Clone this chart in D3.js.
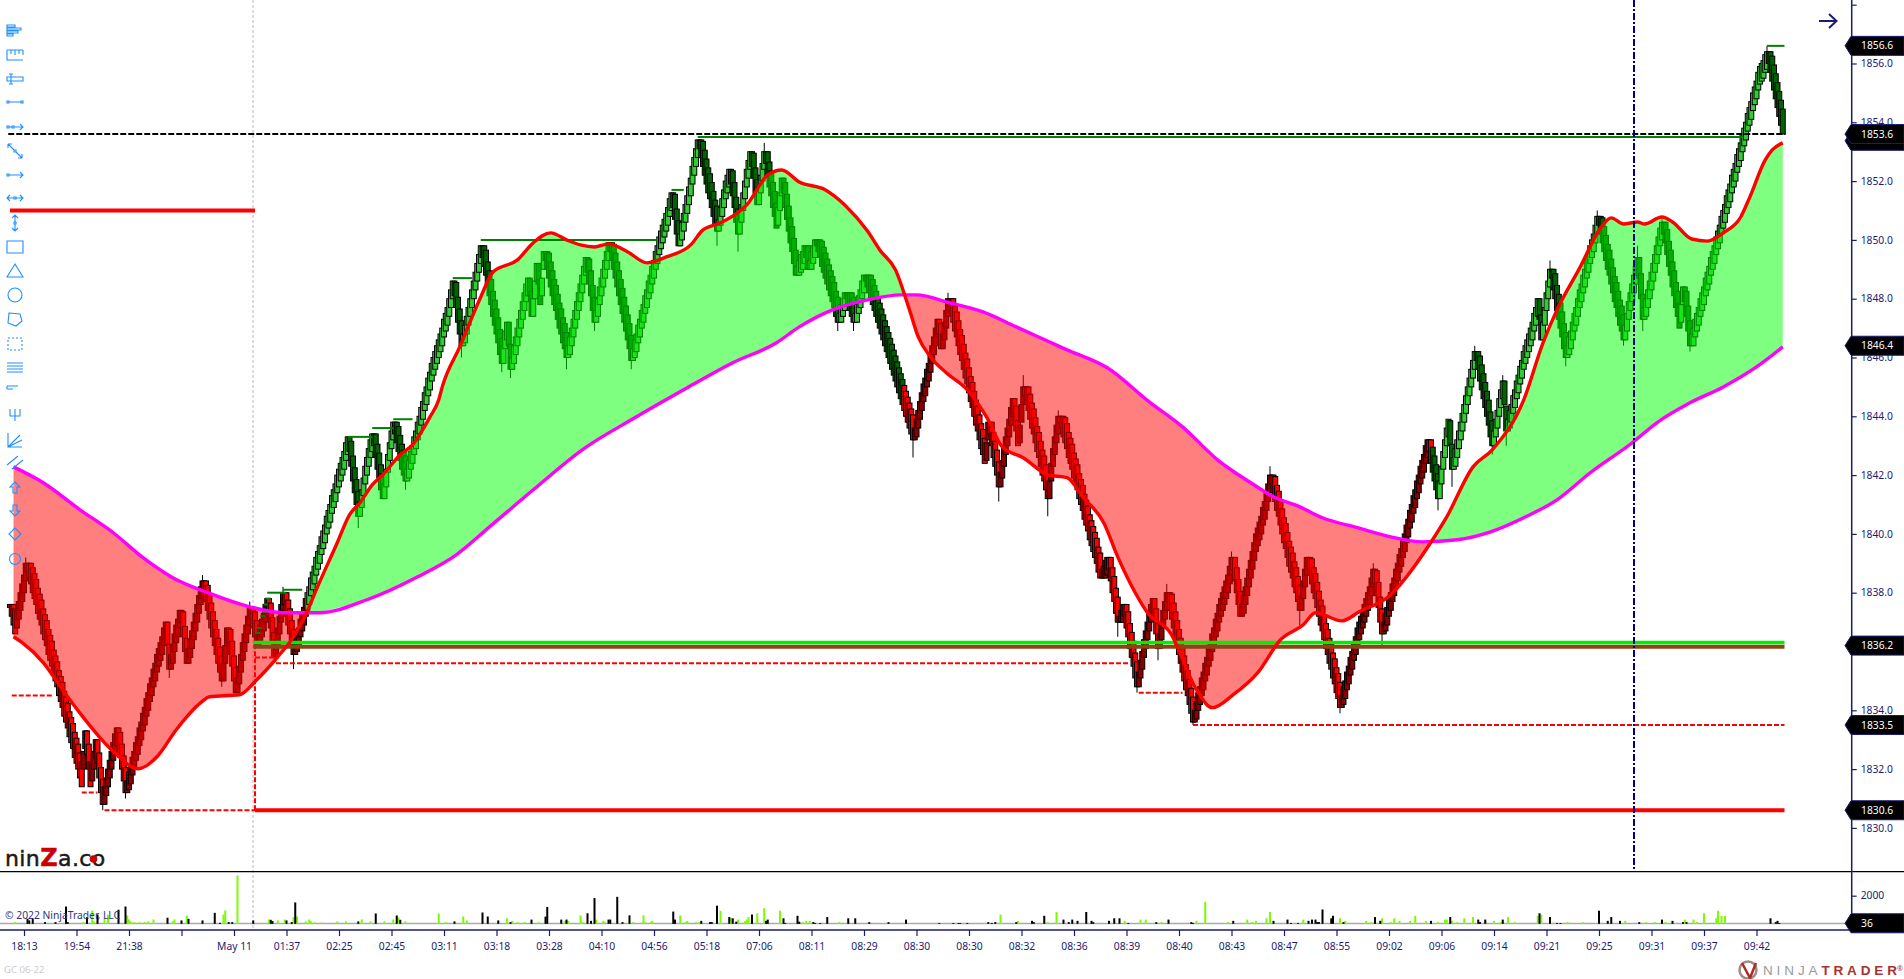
<!DOCTYPE html>
<html>
<head>
<meta charset="utf-8">
<style>
body { margin: 0; background: #fff; overflow: hidden; }
svg { display: block; }
text { font-family: "Noto Sans", sans-serif; }
</style>
<script src="https://cdn.jsdelivr.net/npm/d3@7"></script>
</head>
<body>
<svg id="chart" width="1904" height="979"></svg>
<script>
// renko closes, one line per swing
const closes = [
1837.6,1837.2,1836.9,1836.6,
1837.4,1837.7,1838.0,1838.3,1838.6,1839.0,
1838.7,1838.5,1838.3,1838.0,1837.8,1837.6,1837.3,1837.1,1836.9,1836.6,1836.4,1836.2,1835.9,1835.7,1835.5,1835.2,1835.0,1834.8,1834.5,1834.3,1834.1,1833.8,1833.6,1833.4,1833.1,1832.9,1832.7,1832.4,1832.2,1832.0,1831.7,1831.4,
1832.6,1833.3,
1832.5,1832.0,1831.4,
1832.2,1832.6,1833.0,
1832.2,1831.7,1831.2,1830.8,
1831.4,1831.7,1832.0,1832.3,1832.6,1832.9,1833.2,1833.4,
1832.8,1832.4,1832.0,1831.6,1831.2,
1831.6,1831.9,1832.1,1832.4,1832.6,1832.9,1833.1,1833.4,1833.6,1833.9,1834.1,1834.4,1834.6,1834.9,1835.1,1835.4,1835.6,1835.9,1836.1,1836.3,1836.5,1836.8,1837.0,
1836.2,1835.4,
1835.9,1836.2,1836.6,1836.9,1837.1,1837.4,
1837.0,1836.5,1836.0,1835.6,
1836.1,1836.4,1836.7,1837.0,1837.3,1837.6,1837.9,1838.2,1838.4,
1838.0,1837.7,1837.4,1837.1,1836.8,1836.5,1836.2,1835.9,1835.6,1835.3,1835.0,
1835.6,1836.2,1836.8,
1836.3,1835.9,1835.5,1835.0,1834.6,
1835.1,1835.5,1835.9,1836.3,1836.6,1836.9,1837.2,1837.5,
1837.1,1836.8,1836.5,1836.2,
1836.6,1836.9,1837.1,1837.3,1837.6,1837.8,
1837.3,1836.8,1836.3,1835.8,
1836.4,1836.8,1837.2,1837.6,1838.0,
1837.6,1837.2,1836.9,1836.6,1836.2,1835.9,
1836.4,1836.6,1836.8,1837.1,1837.3,1837.5,1837.8,1838.0,1838.2,1838.5,1838.7,1838.9,1839.2,1839.4,1839.6,1839.9,1840.1,1840.3,1840.6,1840.8,1841.0,1841.3,1841.5,1841.7,1842.0,1842.2,1842.4,1842.6,1842.8,1843.1,1843.3,
1842.8,1842.3,1841.8,1841.4,1841.0,1840.6,
1841.1,1841.5,1841.9,1842.3,1842.6,1842.9,1843.2,1843.4,
1843.0,1842.6,1842.2,1841.9,1841.5,1841.2,
1841.7,1842.2,1842.7,1843.1,1843.5,1843.8,
1843.4,1843.1,1842.8,1842.5,1842.2,1842.0,1841.8,
1842.2,1842.5,1842.8,1843.0,1843.3,1843.5,1843.8,1844.0,1844.3,1844.5,1844.8,1845.0,1845.3,1845.5,1845.8,1846.0,1846.2,1846.4,1846.6,1846.8,1847.0,1847.3,1847.5,1847.7,1848.0,1848.3,1848.6,
1848.1,1847.7,1847.2,1846.8,1846.4,
1846.8,1847.1,1847.4,1847.7,1848.0,1848.3,1848.6,1848.9,1849.2,1849.5,1849.8,
1849.4,1849.1,1848.8,1848.4,1848.1,1847.8,1847.4,1847.1,1846.8,1846.5,1846.1,1845.8,
1846.4,1846.9,1847.2,
1846.4,1845.6,
1846.0,1846.4,1846.7,1847.0,1847.3,1847.6,1847.9,1848.2,1848.5,1848.7,
1848.1,1847.4,
1848.0,1848.6,1849.2,
1848.5,1847.8,
1848.7,1849.6,
1849.3,1849.0,1848.7,1848.4,1848.1,1847.8,1847.6,1847.3,1847.0,1846.8,1846.5,1846.3,1846.0,
1846.4,1846.7,1847.0,1847.3,1847.6,1847.9,1848.2,1848.5,1848.8,1849.1,1849.4,
1848.9,1848.5,1848.1,1847.6,1847.2,
1847.6,1848.0,1848.4,1848.7,1849.0,1849.3,1849.6,1849.9,
1849.6,1849.3,1849.0,1848.7,1848.4,1848.1,1847.8,1847.5,1847.2,1846.9,1846.6,1846.3,1845.9,
1846.3,1846.6,1846.8,1847.1,1847.3,1847.6,1847.8,1848.1,1848.3,1848.6,1848.8,1849.1,1849.3,1849.6,1849.8,1850.1,1850.3,1850.5,1850.7,1850.9,1851.1,1851.4,1851.6,
1851.1,1850.7,1850.2,1849.8,
1850.2,1850.6,1850.9,1851.2,1851.5,1851.8,1852.1,1852.5,1852.8,1853.1,1853.4,
1853.1,1852.8,1852.5,1852.2,1851.9,1851.6,1851.4,1851.1,1850.8,1850.5,1850.3,
1850.7,1851.1,1851.4,1851.7,1852.0,1852.2,1852.4,
1851.9,1851.5,1851.1,1850.6,1850.2,
1850.7,1851.2,1851.6,1852.0,1852.4,1852.7,1853.0,
1852.5,1852.1,1851.6,1851.2,
1851.8,1852.2,1852.6,1853.0,
1852.6,1852.2,1851.8,1851.5,1851.1,1850.8,1850.4,
1851.1,1851.6,1852.1,
1851.6,1851.1,1850.7,1850.3,1849.9,1849.6,1849.2,1848.8,
1849.1,1849.3,1849.5,1849.6,1849.8,
1849.4,1849.0,
1849.3,1849.6,1849.8,1850.0,
1849.8,1849.6,1849.4,1849.1,1848.9,1848.7,1848.5,1848.3,1848.1,1847.9,1847.7,1847.4,1847.2,
1847.5,1847.8,1848.0,1848.2,
1848.0,1847.8,1847.6,1847.4,1847.2,
1847.5,1847.8,1848.1,1848.3,1848.6,1848.8,
1848.6,1848.4,1848.2,1848.0,1847.8,1847.6,1847.4,1847.2,1847.0,1846.8,1846.6,1846.4,1846.2,1846.0,1845.8,1845.6,1845.4,1845.2,1845.0,1844.8,1844.6,1844.4,1844.2,1844.0,1843.8,1843.6,1843.4,1843.2,
1843.6,1843.9,1844.2,1844.5,1844.8,1845.1,1845.3,1845.6,1845.8,1846.1,1846.4,1846.7,1847.0,1847.3,
1846.8,1846.3,
1846.8,1847.2,1847.6,1848.0,
1847.7,1847.5,1847.2,1846.9,1846.7,1846.4,1846.1,1845.9,1845.6,1845.3,1845.1,1844.8,1844.5,1844.3,1844.0,1843.7,1843.5,1843.2,1842.9,1842.7,1842.4,
1843.1,1843.8,
1843.4,1843.0,1842.6,1842.3,1842.0,1841.6,
1842.1,1842.5,1842.9,1843.3,1843.6,1843.9,1844.3,1844.6,
1844.1,1843.5,1843.0,
1843.7,1844.4,1845.0,
1844.7,1844.4,1844.2,1843.9,1843.6,1843.4,1843.1,1842.8,1842.6,1842.3,1842.0,1841.8,1841.5,1841.2,
1841.8,1842.4,1842.9,1843.3,1843.7,1844.0,
1843.8,1843.6,1843.3,1843.1,1842.9,1842.6,1842.4,1842.2,1841.9,1841.7,1841.5,1841.2,1841.0,1840.8,1840.5,1840.3,1840.1,1839.8,1839.6,1839.4,1839.2,1839.0,1838.7,1838.5,
1838.8,1838.9,1839.1,1839.2,
1838.8,1838.4,1838.0,1837.7,1837.3,1837.0,
1837.2,1837.4,1837.6,
1837.2,1836.8,1836.5,1836.1,1835.8,1835.5,1835.1,1834.8,
1835.3,1835.7,1836.0,1836.4,1836.7,1837.0,1837.3,1837.6,1837.8,
1837.2,1836.6,1836.1,
1836.6,1837.0,1837.4,1837.7,1838.0,
1837.7,1837.4,1837.1,1836.8,1836.5,1836.2,1835.9,1835.6,1835.3,1835.0,1834.7,1834.5,1834.2,1833.9,1833.6,
1834.0,1834.3,1834.6,1834.8,1835.1,1835.3,1835.6,1835.8,1836.1,1836.3,1836.6,1836.8,1837.1,1837.3,1837.6,1837.8,1838.0,1838.2,1838.4,1838.6,1838.9,1839.2,
1838.8,1838.4,1838.0,1837.6,1837.2,
1837.6,1837.9,1838.2,1838.5,1838.8,1839.1,1839.4,1839.7,1840.0,1840.2,1840.4,1840.6,1840.9,1841.1,1841.4,1841.7,1842.0,
1841.7,1841.4,1841.1,1840.8,1840.6,1840.3,1840.0,1839.7,1839.5,1839.2,1838.9,1838.7,1838.5,1838.2,1838.0,1837.7,1837.4,
1837.9,1838.4,1838.8,1839.2,
1838.9,1838.6,1838.3,1838.0,1837.8,1837.5,1837.2,1836.9,1836.7,1836.4,1836.1,1835.9,1835.6,1835.4,1835.1,1834.9,1834.6,1834.4,1834.1,
1834.5,1834.8,1835.0,1835.3,1835.5,1835.8,1836.0,1836.3,1836.5,1836.8,1837.0,1837.2,1837.4,1837.6,1837.8,1838.0,1838.2,1838.5,1838.8,
1838.3,1837.9,1837.5,1837.0,1836.6,
1837.0,1837.3,1837.5,1837.8,1838.0,1838.3,1838.5,1838.8,1839.0,1839.3,1839.5,1839.8,1840.0,1840.3,1840.5,1840.8,1841.0,1841.3,1841.5,1841.8,1842.0,1842.3,1842.5,1842.7,1843.0,1843.2,
1842.8,1842.4,1842.1,1841.8,1841.5,1841.2,
1841.8,1842.3,1842.8,1843.2,1843.6,1843.9,
1843.0,1842.2,
1842.6,1842.9,1843.2,1843.5,1843.8,1844.1,1844.4,1844.7,1845.0,1845.3,1845.6,1845.9,1846.2,
1845.9,1845.6,1845.2,1844.9,1844.6,1844.3,1844.0,1843.7,1843.3,1843.0,
1843.5,1843.9,1844.2,1844.6,1844.9,1845.2,
1844.4,1843.5,
1843.9,1844.2,1844.4,1844.7,1844.9,1845.2,1845.4,1845.7,1845.9,1846.2,1846.4,1846.6,1846.8,1847.0,1847.2,1847.5,1847.7,1848.0,
1847.3,1846.6,
1847.2,1847.7,1848.2,1848.6,1849.0,
1848.7,1848.3,1848.0,1847.6,1847.3,1847.0,1846.7,1846.3,1846.0,
1846.4,1846.7,1846.9,1847.2,1847.5,1847.7,1848.0,1848.3,1848.5,1848.8,1849.0,1849.3,1849.5,1849.8,1850.0,1850.2,1850.5,1850.8,
1850.5,1850.2,1849.9,1849.6,1849.3,1849.0,1848.8,1848.5,1848.2,1847.9,1847.7,1847.4,1847.1,1846.9,1846.6,
1847.1,1847.5,1847.9,1848.2,1848.5,1848.8,1849.1,1849.4,
1848.7,1848.0,1847.3,
1847.7,1848.0,1848.3,1848.6,1848.9,1849.2,1849.5,1849.8,1850.1,1850.4,1850.6,
1850.2,1849.9,1849.5,1849.1,1848.8,1848.4,1848.1,1847.7,1847.4,1847.0,
1847.8,1848.4,
1847.9,1847.4,1846.9,1846.4,
1846.8,1847.0,1847.3,1847.5,1847.7,1848.0,1848.2,1848.4,1848.7,1848.9,1849.1,1849.4,1849.6,1849.8,1850.1,1850.3,1850.5,1850.8,1851.0,1851.2,1851.5,1851.7,1851.9,1852.2,1852.4,1852.6,1852.9,1853.1,1853.3,1853.6,1853.8,1854.0,1854.3,1854.5,1854.7,1855.0,1855.2,1855.4,1855.7,1855.9,1856.0,1856.1,1856.3,1856.4,
1856.0,1855.7,1855.4,1855.1,1854.8,1854.5,1854.2,1853.9,1853.6
];

// wick extremes: [bar, price]
const wicks = [[9,1839.2],[53,1830.6],[66,1831.0],[91,1835.1],[110,1838.6],[121,1834.8],[137,1837.7],[156,1838.2],[162,1835.4],[199,1840.2],[226,1841.5],[258,1846.0],[281,1845.5],[286,1845.3],[318,1845.6],[334,1846.9],[355,1845.6],[404,1849.8],[416,1849.6],[431,1853.3],[473,1846.9],[482,1846.9],[516,1842.6],[536,1848.2],[565,1841.1],[579,1845.4],[593,1840.6],[599,1844.2],[633,1836.5],[644,1834.6],[656,1835.7],[661,1838.3],[676,1833.5],[698,1839.4],[720,1842.3],[737,1836.9],[760,1833.9],[779,1839.0],[784,1836.2],[816,1840.8],[824,1841.6],[837,1846.4],[847,1842.7],[853,1845.4],[855,1843.0],[880,1849.3],[889,1845.7],[907,1851.0],[922,1846.4],[930,1849.8],[933,1846.9],[944,1850.8],[960,1846.2],[1004,1856.6]];

// fast average (red)
const fastBars = [2,7,19,30,42,51,61,73,84,95,109,114,131,141,153,162,169,175,187,194,200,207,213,223,230,240,245,247,257,269,276,290,299,309,318,326,334,342,353,364,375,389,396,406,421,433,441,451,466,477,490,497,506,514,519,526,535,547,558,567,579,593,604,613,625,633,643,650,663,678,687,699,713,726,739,746,761,771,789,798,811,821,836,847,865,876,884,897,909,915,922,930,934,944,950,961,970,979,989,994,1003,1007,1013];
const fastValues = [1836.50,1836.30,1835.62,1834.70,1833.75,1833.10,1832.49,1832.01,1832.42,1833.34,1834.26,1834.46,1834.53,1835.04,1835.82,1836.50,1837.25,1838.10,1839.70,1840.65,1841.06,1841.67,1842.01,1842.69,1843.03,1843.98,1844.56,1845.00,1846.36,1848.06,1848.91,1849.32,1849.90,1850.24,1850.00,1849.83,1849.76,1849.86,1849.59,1849.22,1849.42,1849.83,1850.34,1850.58,1851.19,1852.21,1852.38,1851.97,1851.70,1851.19,1850.30,1849.66,1848.98,1847.62,1846.70,1846.02,1845.48,1844.90,1843.98,1842.96,1842.59,1842.01,1841.91,1841.26,1840.38,1839.22,1838.00,1837.32,1836.64,1834.70,1834.09,1834.53,1835.28,1836.40,1836.91,1837.32,1837.04,1837.35,1837.93,1838.54,1839.63,1840.58,1842.28,1842.86,1844.56,1846.50,1847.62,1849.05,1850.41,1850.75,1850.54,1850.61,1850.54,1850.78,1850.61,1850.03,1849.96,1850.24,1850.78,1851.43,1852.72,1853.06,1853.30];

// slow average (magenta)
const slowBars = [2,19,40,59,76,93,113,137,156,177,204,233,255,274,299,327,357,387,413,438,451,470,490,509,518,537,556,575,604,627,651,670,690,709,722,737,750,770,789,807,827,846,865,884,903,927,941,960,979,998,1013];
const slowValues = [1842.28,1841.74,1840.82,1840.04,1839.19,1838.51,1838.00,1837.52,1837.32,1837.32,1837.76,1838.54,1839.29,1840.24,1841.50,1842.86,1843.95,1844.97,1845.82,1846.50,1847.04,1847.62,1847.96,1848.13,1848.13,1847.86,1847.55,1847.04,1846.26,1845.65,1844.49,1843.64,1842.52,1841.74,1841.26,1840.92,1840.55,1840.21,1839.90,1839.73,1839.80,1840.07,1840.55,1841.16,1842.08,1843.10,1843.78,1844.46,1845.00,1845.68,1846.36];

// swing highs: [from bar, to bar, price]
const swingHighs = [[140,143,1836.63],[141,144,1836.8],[143,146,1837.2],[144,147,1837.35],[145,147,1837.6],[146,149,1837.8],[147,158,1838.0],[156,167,1838.1],[193,207,1843.3],[207,219,1843.6],[219,230,1843.9],[253,264,1848.7],[269,370,1850.0],[378,385,1851.7],[393,990,1853.5],[1004,1014,1856.6]];
// swing lows, dashed, same layout
const swingLows = [[1,25,1834.5],[41,50,1831.2],[54,140,1830.6],[140,151,1835.8],[152,640,1835.6],[645,670,1834.6],[676,1014,1833.5]];
// dashed uprights between swing lows: [bar, from price, to price]
const swingStubs = [[140,1830.6,1836.2],[151.5,1835.8,1835.6]];

const volumeUp = [[3,120],[42,120],[47,950],[48,170],[54,355],[56,640],[67,590],[68,310],[69,170],[71,120],[74,120],[77,120],[79,170],[82,310],[93,170],[94,310],[101,590],[122,660],[123,950],[130,3440],[148,310],[153,240],[157,310],[162,470],[164,520],[169,170],[171,310],[172,170],[174,120],[178,95],[187,170],[192,170],[201,310],[206,170],[214,170],[219,310],[222,450],[226,170],[245,735],[249,120],[259,520],[261,240],
[284,390],[287,210],[290,120],[294,120],[302,120],[317,210],[319,210],[326,600],[327,120],[335,300],[339,210],[340,120],[356,120],[362,600],[363,120],[366,120],[367,210],[383,600],[386,120],[387,210],[392,120],[394,120],[406,930],[412,420],[416,300],[420,180],[421,300],[422,480],[427,750],[431,1110],[440,930],[453,120],[455,210],[457,210],[474,120],[566,660],[576,210],[593,120],[598,840],[637,210],[646,300],[649,300],
[658,120],[678,210],[683,1560],[696,120],[707,300],[710,120],[712,210],[718,390],[720,840],[739,300],[760,390],[763,210],[775,210],[778,120],[784,390],[789,120],[791,390],[794,210],[800,210],[803,570],[809,210],[816,120],[820,300],[821,300],[824,210],[827,120],[831,390],[836,480],[848,210],[852,120],[856,480],[860,120],[873,570],[875,660],[890,120],[899,120],[923,210],[935,120],[940,120],[946,120],[957,300],[962,300],[964,120],[968,750],[975,390],[976,930],[978,570],[980,570]];
const volumeDown = [[10,355],[11,240],[13,355],[20,120],[26,120],[32,1230],[33,120],[44,470],[50,660],[62,1000],[66,1230],[90,430],[98,240],[102,355],[110,240],[117,780],[120,70],[125,120],[127,120],[139,240],[149,285],[150,190],[158,240],[161,120],[163,1520],[199,170],[209,735],[221,590],[223,285],[254,170],[270,805],[273,520],[279,240],
[286,120],[298,300],[306,510],[307,1200],[315,300],[318,300],[330,750],[332,210],[334,1830],[342,300],[343,300],[347,1920],[350,120],[354,600],[379,870],[380,300],[395,210],[400,120],[401,120],[404,1290],[411,480],[413,390],[415,150],[424,660],[432,210],[433,300],[442,390],[443,60],[450,570],[451,150],[459,120],[460,60],[463,60],[467,480],[479,390],[483,390],[491,120],[502,120],[512,300],[531,60],[539,60],[542,60],[543,60],[547,60],[559,120],[561,60],[563,120],[575,120],[584,210],[585,120],[591,570],[602,300],[605,120],[607,300],[610,210],[615,840],[618,210],[619,120],[628,210],[631,390],[634,390],[639,60],
[655,120],[662,300],[675,120],[676,60],[699,210],[722,210],[730,300],[732,60],[736,60],[742,210],[744,300],[746,300],[747,120],[748,120],[750,1020],[755,390],[756,570],[762,120],[780,480],[783,210],[812,210],[823,480],[839,300],[840,120],[843,300],[853,300],[874,750],[880,480],[884,60],[886,60],[908,930],[913,210],[915,480],[920,210],[931,120],[944,300],[950,210],[956,120],[958,120],[1006,390],[1009,120],[1010,210],[1011,60]];

const timeLabels = ["18:13","19:54","21:38","","May 11","01:37","02:25","02:45","03:11","03:18","03:28","04:10","04:56","05:18","07:06","08:11","08:29","08:30","08:30","08:32","08:36","08:39","08:40","08:43","08:47","08:55","09:02","09:06","09:14","09:21","09:25","09:31","09:37","09:42"];
const timeTickBars = timeLabels.map((d, i) => 8 + 30 * i);
const priceTicks = [1830,1832,1834,1836,1838,1840,1842,1844,1846,1848,1850,1852,1854,1856,1858];
// [axis position, label]: the 1853.5 marker sits pushed down behind 1853.6
const priceFlags = [[1853.37,"1853.5"],[1856.6,"1856.6"],[1846.4,"1846.4"],[1836.2,"1836.2"],[1833.5,"1833.5"],[1830.6,"1830.6"],[1853.6,"1853.6"]];
const lastVolume = 36;

const navy = "#1b1b72", barUpGreen = "#32cd32", barDownGreen = "#006400", barUpRed = "#8b0000", barDownRed = "#ff0000";
const upBody = 0.6, downBody = 0.85;

const svg = d3.select("#chart");

const x = d3.scaleLinear().domain([0, 1014]).range([10, 10 + 1014 * 1.75]);
const y = d3.scaleLinear().domain([1830, 1856]).range([827.9, 63.5]);
const yVol = d3.scaleLinear().domain([0, 2000]).range([923.8, 895.7]);

const fastAt = d3.scaleLinear().domain(fastBars).range(fastValues);
const slowAt = d3.scaleLinear().domain(slowBars).range(slowValues);

// session line goes under everything
svg.append("line").attr("x1", 253).attr("x2", 253).attr("y1", 0).attr("y2", 930)
    .attr("stroke", "#bbb").attr("stroke-dasharray", "3,2");

function isUp(i) { return i == 0 ? false : closes[i] >= closes[i - 1]; }

// a body never pokes past the pivot its run started from
let pivot = closes[0];
const opens = closes.map((c, i) => {
    if (i > 0 && isUp(i) != isUp(i - 1)) pivot = closes[i - 1];
    return isUp(i) ? Math.max(c - upBody, pivot) : Math.min(c + downBody, pivot);
});

function barColor(d, i) {
    const bull = fastAt(i) > slowAt(i);
    if (isUp(i)) return bull ? barUpGreen : barUpRed;
    return bull ? barDownGreen : barDownRed;
}

svg.append("g").selectAll("line").data(wicks).enter().append("line")
    .attr("x1", d => x(d[0]))
    .attr("x2", d => x(d[0]))
    .attr("y1", d => y(d[1]))
    .attr("y2", d => y(closes[d[0]]))
    .attr("stroke", "black");

// bars
svg.append("g").selectAll("rect").data(closes).enter().append("rect")
    .attr("x", (d, i) => x(i) - 2.5)
    .attr("width", 5)
    .attr("y", (d, i) => y(Math.max(d, opens[i])))
    .attr("height", (d, i) => Math.max(Math.abs(y(d) - y(opens[i])), 3))
    .attr("fill", barColor)
    .attr("stroke", "black")
    .attr("stroke-width", 1);

// cloud between the averages
const cloudBars = d3.range(2, 1014);
function cloud(test, color) {
    const area = d3.area()
        .defined(test)
        .x(d => x(d))
        .y0(d => y(fastAt(d)))
        .y1(d => y(slowAt(d)));
    svg.append("path").attr("d", area(cloudBars)).attr("fill", color).attr("fill-opacity", 0.5);
}
cloud(d => fastAt(d) >= slowAt(d) - 0.03, "#00ff00");
cloud(d => fastAt(d) <= slowAt(d) + 0.03, "#ff0000");

// swing lines
svg.append("g").selectAll("line").data(swingHighs).enter().append("line")
    .attr("x1", d => x(d[0])).attr("x2", d => x(d[1]))
    .attr("y1", d => y(d[2])).attr("y2", d => y(d[2]))
    .attr("stroke", "#008000").attr("stroke-width", 2);

svg.append("g").selectAll("line").data(swingLows).enter().append("line")
    .attr("x1", d => x(d[0])).attr("x2", d => x(d[1]))
    .attr("y1", d => y(d[2])).attr("y2", d => y(d[2]))
    .attr("stroke", "#ff0000").attr("stroke-width", 2).attr("stroke-dasharray", "5,2");

svg.append("g").selectAll("line").data(swingStubs).enter().append("line")
    .attr("x1", d => x(d[0])).attr("x2", d => x(d[0]))
    .attr("y1", d => y(d[1])).attr("y2", d => y(d[2]))
    .attr("stroke", "#ff0000").attr("stroke-width", 2).attr("stroke-dasharray", "5,2");

// horizontal levels
function level(a, b, price, color, w, dash) {
    svg.append("line").attr("x1", x(a)).attr("x2", x(b)).attr("y1", y(price)).attr("y2", y(price))
        .attr("stroke", color).attr("stroke-width", w).attr("stroke-dasharray", dash || null);
}
level(0, 140, 1851.0, "#ff0000", 4);
level(140, 1014, 1830.6, "#ff0000", 4);
level(139, 1014, 1836.16, "#8b4513", 4);
level(139, 1014, 1836.31, "#00ee00", 3.5);
level(-1, 1014.5, 1853.6, "#000", 2, "6,2");

// averages
const lineOf = (bs, vs) => d3.line().curve(d3.curveMonotoneX).x((d, i) => x(bs[i])).y(d => y(d))(vs);
svg.append("path").attr("d", lineOf(slowBars, slowValues)).attr("fill", "none").attr("stroke", "#ff00ff").attr("stroke-width", 3.4);
svg.append("path").attr("d", lineOf(fastBars, fastValues)).attr("fill", "none").attr("stroke", "#ff0000").attr("stroke-width", 3.4);

// cursor
svg.append("line").attr("x1", 1634).attr("x2", 1634).attr("y1", 0).attr("y2", 871)
    .attr("stroke", "#000080").attr("stroke-width", 2).attr("stroke-dasharray", "7,2,2,2");

// volume pane
svg.append("line").attr("x1", 0).attr("x2", 1850).attr("y1", 923.6).attr("y2", 923.6)
    .attr("stroke", "#aaa").attr("stroke-width", 1.5);

svg.append("g").selectAll("rect").data(volumeUp).enter().append("rect")
    .attr("x", d => x(d[0]) - 1).attr("width", 2)
    .attr("y", d => yVol(d[1])).attr("height", d => yVol(0) - yVol(d[1]))
    .attr("fill", "#7cfc00");

svg.append("g").selectAll("rect").data(volumeDown).enter().append("rect")
    .attr("x", d => x(d[0]) - 1).attr("width", 2)
    .attr("y", d => yVol(d[1])).attr("height", d => yVol(0) - yVol(d[1]))
    .attr("fill", "black");

svg.append("line").attr("x1", 0).attr("x2", 1904).attr("y1", 871.7).attr("y2", 871.7)
    .attr("stroke", "black").attr("stroke-width", 1.3);

// axes
const priceAxis = d3.axisRight(y).tickValues(priceTicks).tickSize(5).tickPadding(4)
    .tickFormat(d => d == 1858 ? "" : d3.format(".1f")(d));
const priceG = svg.append("g").attr("transform", "translate(1851.7,0)").call(priceAxis);

const volAxis = d3.axisRight(yVol).tickValues([2000]).tickSize(5).tickPadding(4);
const volG = svg.append("g").attr("transform", "translate(1851.7,0)").call(volAxis.tickFormat(d3.format("d")));

const timeAxis = d3.axisBottom(x).tickValues(timeTickBars).tickSize(6).tickPadding(7)
    .tickFormat((d, i) => timeLabels[i]);
const timeG = svg.append("g").attr("transform", "translate(0,930)").call(timeAxis);

[priceG, volG, timeG].forEach(g => {
    g.select(".domain").remove();
    g.selectAll("line").attr("stroke", navy).attr("stroke-width", 1.2);
    g.selectAll("text").attr("fill", navy).style("font-size", "10.3px").style("font-family", '"Noto Sans", sans-serif');
});

svg.append("line").attr("x1", 1851.7).attr("x2", 1851.7).attr("y1", 0).attr("y2", 930).attr("stroke", navy).attr("stroke-width", 1.5);
svg.append("line").attr("x1", 0).attr("x2", 1851.7).attr("y1", 930).attr("y2", 930).attr("stroke", navy).attr("stroke-width", 1.5);

// price flags
function flag(cy, label) {
    svg.append("path")
        .attr("d", "M1845," + cy + "L1851," + (cy - 9.5) + "H1904V" + (cy + 9.5) + "H1851Z")
        .attr("fill", "black").attr("stroke", navy);
    svg.append("text").attr("x", 1861).attr("y", cy + 3.6).attr("fill", "white")
        .style("font-size", "10.3px").text(label);
}
priceFlags.forEach(p => flag(y(p[0]), p[1]));
flag(yVol(lastVolume), String(lastVolume));

// arrow at top right
svg.append("path").attr("d", "M1819,21H1836M1829,14L1836.5,21L1829,28")
    .attr("fill", "none").attr("stroke", navy).attr("stroke-width", 2);

// drawing tool strip
const toolIcons = [
    [31, "M-8,-6H0V-4H-8ZM-8,-3H6V-1H-8ZM-8,0H3V2H-8ZM-8,3H-2V5H-8Z"],
    [55, "M-8,-5V5H8M-8,-5H8M-4,-5V-1M0,-5V0M4,-5V-1M8,-5V0"],
    [79, "M-8,-2H-4V2H-8ZM-4,-2H8V2H-4M-4,-5V5M-6,-5H-2M-6,5H-2"],
    [102, "M-8,-1H-6V1H-8ZM6,-1H8V1H6ZM-6,0H6"],
    [127, "M-8,-1H-6V1H-8ZM-3,-1H-1V1H-3ZM-6,0H-3M-1,0H8M5,-3L8,0L5,3"],
    [151, "M-7,-7L-1,-1M1,1L7,7M-7,-7H-3M-7,-7V-3M7,7H3M7,7V3M-1,-1H1V1H-1Z"],
    [175, "M-8,-1H-6V1H-8ZM-6,0H8M5,-3L8,0L5,3"],
    [198, "M-8,0H-1M1,0H8M-5,-3L-8,0L-5,3M5,-3L8,0L5,3M-1,-1H1V1H-1Z"],
    [223, "M0,-8V-1M0,1V8M-3,-5L0,-8L3,-5M-3,5L0,8L3,5M-1,-1H1V1H-1Z"],
    [247, "M-8,-6H8V6H-8Z"],
    [271, "M-8,6H8L0,-7Z"],
    [295, "M-7,0A7,7 0 1,0 7,0A7,7 0 1,0 -7,0Z"],
    [319, "M-6,-6L5,-5L7,2L1,7L-7,4Z"],
    [344, "M-7,-6H7V6H-7Z"],
    [368, "M-8,-5H8M-8,-2H8M-8,1H8M-8,4H8"],
    [391, "M-8,-5H3M-8,-5V-2M-8,-2H-2"],
    [415, "M-5,-6V1H5V-6M0,-6V6"],
    [440, "M-7,-7V7H7M-7,7L5,-5M-7,7L7,0"],
    [463, "M-8,2L3,-7M-3,6L8,-3"],
    [488, "M0,-6L5,-1H2V5H-2V-1H-5Z"],
    [510, "M0,6L5,1H2V-5H-2V1H-5Z"],
    [534, "M0,-6L6,0L0,6L-6,0Z"],
    [559, "M-5.5,0A5.5,5.5 0 1,0 5.5,0A5.5,5.5 0 1,0 -5.5,0Z"]
];
svg.append("g").selectAll("path").data(toolIcons).enter().append("path")
    .attr("transform", d => "translate(15," + d[0] + ")")
    .attr("d", d => d[1])
    .attr("fill", "none")
    .attr("stroke", "#1e90ff")
    .attr("stroke-width", 1.1)
    .attr("stroke-dasharray", d => d[0] == 344 ? "2,2" : null);

// logos and captions
const ninza = svg.append("text").attr("x", 5).attr("y", 866)
    .style("font-family", '"DejaVu Sans", sans-serif').style("font-size", "22px")
    .style("letter-spacing", "0.4px").attr("fill", "#1a1a1a").attr("stroke", "#1a1a1a").attr("stroke-width", 0.5);
ninza.append("tspan").text("nin");
ninza.append("tspan").attr("fill", "#cc0000").attr("stroke", "#cc0000").style("font-size", "24px").style("font-weight", "bold").text("Z");
ninza.append("tspan").text("a.co");
svg.append("circle").attr("cx", 93.5).attr("cy", 859).attr("r", 3.8).attr("fill", "#cc0000");

svg.append("text").attr("x", 5).attr("y", 919).attr("fill", "#2e3580").style("font-size", "10.3px").text("\u00a9 2022 NinjaTrader, LLC");
svg.append("text").attr("x", 4).attr("y", 973).attr("fill", "#ccc").style("font-size", "9.6px").text("GC 06-22");

svg.append("circle").attr("cx", 1748).attr("cy", 970).attr("r", 8.5).attr("fill", "none").attr("stroke", "#a08c80").attr("stroke-width", 2.5);
svg.append("path").attr("d", "M1742,963L1750,978L1756,963").attr("fill", "none").attr("stroke", "#b02a2a").attr("stroke-width", 2.5);
const ntLogo = svg.append("text").attr("x", 1763).attr("y", 975).attr("textLength", 134).attr("lengthAdjust", "spacing")
    .style("font-family", '"Liberation Sans", sans-serif').style("font-size", "13.5px");
ntLogo.append("tspan").attr("fill", "#9a9a9a").text("NINJA");
ntLogo.append("tspan").attr("fill", "#a83232").style("font-weight", "bold").text("TRADER");
svg.append("text").attr("x", 1897).attr("y", 971).attr("fill", "#a83232").style("font-size", "7px").text("\u00ae");
</script>
</body>
</html>
